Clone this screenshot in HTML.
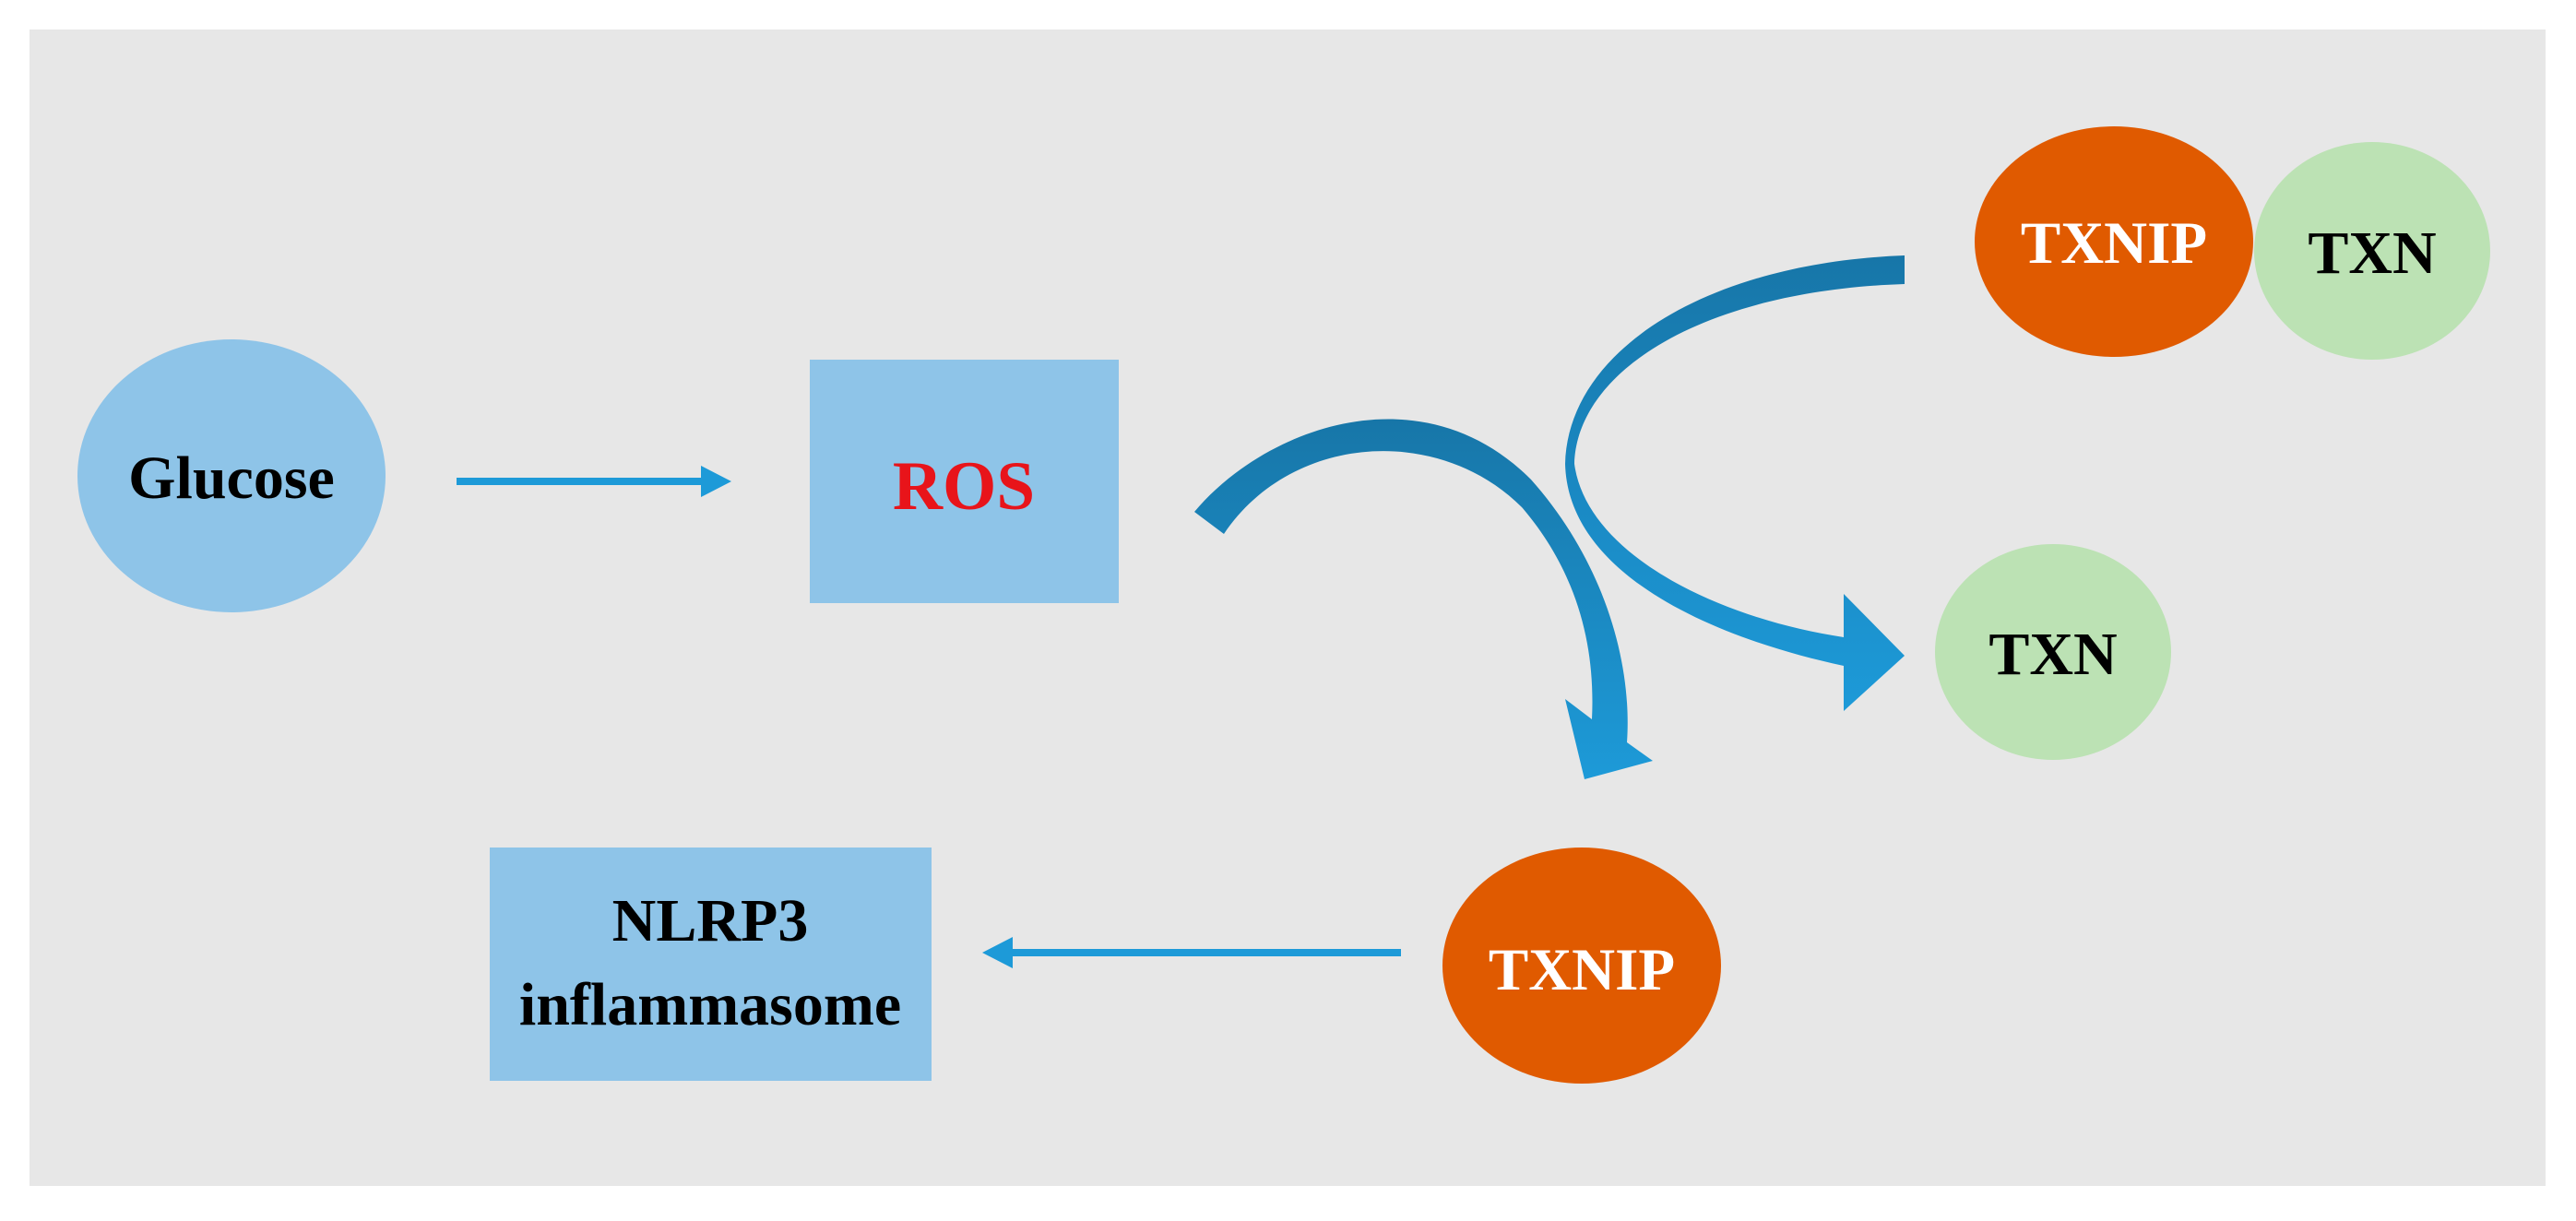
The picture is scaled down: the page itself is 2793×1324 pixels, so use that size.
<!DOCTYPE html>
<html><head><meta charset="utf-8"><style>
html,body{margin:0;padding:0;background:#fff;}
svg{display:block;}
text{font-family:"Liberation Serif",serif;font-weight:bold;}
</style></head><body>
<svg width="2793" height="1324" viewBox="0 0 2793 1324" xmlns="http://www.w3.org/2000/svg">
<defs>
<linearGradient id="g1" x1="0" y1="0" x2="0" y2="1">
<stop offset="0" stop-color="#1776a8"/><stop offset="0.4" stop-color="#1a85bc"/><stop offset="1" stop-color="#1d9ad8"/>
</linearGradient>
<linearGradient id="g2" x1="0" y1="0" x2="0" y2="1">
<stop offset="0" stop-color="#1776a8"/><stop offset="0.5" stop-color="#1a88c2"/><stop offset="1" stop-color="#1d9ad8"/>
</linearGradient>
</defs>
<rect x="32" y="32" width="2728" height="1254" fill="#e7e7e7"/>
<ellipse cx="251" cy="516" rx="167" ry="148" fill="#8ec4e8"/>
<text x="251" y="540" font-size="66" text-anchor="middle" fill="#000">Glucose</text>
<rect x="495" y="518" width="280" height="8" fill="#1d9ad8"/>
<polygon points="760,505 793,522 760,539" fill="#1d9ad8"/>
<rect x="878" y="390" width="335" height="264" fill="#8ec4e8"/>
<text x="1045" y="552" font-size="75" text-anchor="middle" fill="#e8141a">ROS</text>
<path d="M1295,555 C1370,465 1540,400 1660,520 C1740,610 1770,720 1764,805 L1792,825 L1718,845 L1697,758 L1726,780 C1730,700 1710,620 1650,550 C1560,460 1400,470 1327,579 Z" fill="url(#g1)"/>
<path d="M2065,277 C1850,285 1700,380 1697,503 C1700,620 1850,690 1999,722 L1999,771 L2065,711 L1999,644 L1999,691 C1860,670 1720,600 1707,503 C1710,400 1850,315 2065,308 Z" fill="url(#g2)"/>
<ellipse cx="2572" cy="272" rx="128" ry="118" fill="#bce2b4"/>
<ellipse cx="2292" cy="262" rx="151" ry="125" fill="#e05a00"/>
<text x="2292" y="285" font-size="65" text-anchor="middle" fill="#fff">TXNIP</text>
<text x="2572" y="296" font-size="66" text-anchor="middle" fill="#000">TXN</text>
<ellipse cx="2226" cy="707" rx="128" ry="117" fill="#bce2b4"/>
<text x="2226" y="731" font-size="66" text-anchor="middle" fill="#000">TXN</text>
<ellipse cx="1715" cy="1047" rx="151" ry="128" fill="#e05a00"/>
<text x="1715" y="1073" font-size="65" text-anchor="middle" fill="#fff">TXNIP</text>
<rect x="1095" y="1029" width="424" height="8" fill="#1d9ad8"/>
<polygon points="1098,1016 1065,1033 1098,1050" fill="#1d9ad8"/>
<rect x="531" y="919" width="479" height="253" fill="#8ec4e8"/>
<text x="770" y="1020" font-size="66" text-anchor="middle" fill="#000">NLRP3</text>
<text x="770" y="1111" font-size="66" text-anchor="middle" fill="#000">inflammasome</text>
</svg>
</body></html>
